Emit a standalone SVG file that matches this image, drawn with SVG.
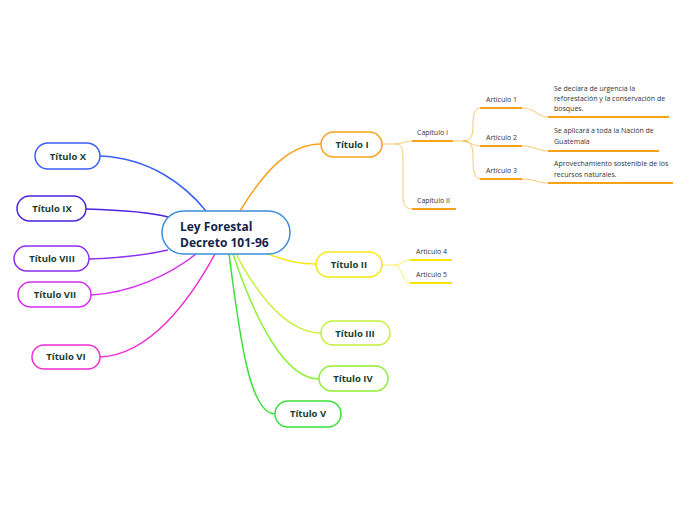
<svg xmlns="http://www.w3.org/2000/svg" width="696" height="520" viewBox="0 0 696 520">
<style>
.node{fill:#fff;stroke-width:1.5}
.t{font-family:"Open Sans","Noto Sans",sans-serif;font-weight:bold;font-size:9.5px;fill:#16402f;text-anchor:middle}
.c{font-family:"Open Sans","Noto Sans",sans-serif;font-weight:bold;font-size:12px;fill:#12244a}
.s{font-family:"Open Sans","Noto Sans",sans-serif;font-size:7px;fill:#333}
.con{fill:none;stroke-width:1.5}
.sub{fill:none;stroke-width:1;opacity:.6}
.ul{fill:none;stroke-width:2}
</style>
<rect width="696" height="520" fill="#fff"/>
<g id="connectors">
<path class="con" stroke="#f7a21b" d="M240 211 C265 170 290 144 321 144"/>
<path class="con" stroke="#f5e71a" d="M268 254 C290 262 300 264 316 264"/>
<path class="con" stroke="#c5f03a" d="M236 254 C260 300 290 333 321 333"/>
<path class="con" stroke="#8ef035" d="M233 254 C255 320 285 379 319 379"/>
<path class="con" stroke="#3de03a" d="M229 254 C240 340 250 414 275 414"/>
<path class="con" stroke="#3b5ff5" d="M100 156 C150 158 185 185 206 211"/>
<path class="con" stroke="#4a22e0" d="M86 209 C120 210 150 212 168 217"/>
<path class="con" stroke="#8a2ef0" d="M89 259 C120 258 150 254 168 250"/>
<path class="con" stroke="#d52ef0" d="M91 295 C130 293 170 275 196 254"/>
<path class="con" stroke="#f02ed0" d="M100 357 C150 355 190 300 215 254"/>
<path class="sub" stroke="#f7a21b" d="M382 144 L395 144 C402 144 405 141 412 141"/>
<path class="sub" stroke="#f7a21b" d="M395 144 C403 144 403 150 403 165 L403 197 C403 205 406 209 412 209"/>
<path class="sub" stroke="#f7a21b" d="M453 141 L463 141 C472 141 473 134 473 125 C473 113 475 108 480 108"/>
<path class="sub" stroke="#f7a21b" d="M463 141 C470 141 472 146 480 146"/>
<path class="sub" stroke="#f7a21b" d="M463 141 C472 141 473 148 473 158 C473 172 475 179 480 179"/>
<path class="sub" stroke="#f7a21b" d="M522 108 C535 108 538 117 548 117"/>
<path class="sub" stroke="#f7a21b" d="M522 146 C535 146 538 151 548 151"/>
<path class="sub" stroke="#f7a21b" d="M522 179 C535 179 538 183 548 183"/>
<path class="sub" stroke="#f5e500" d="M382 265 L394 265 C402 265 403 260 410 260"/>
<path class="sub" stroke="#f5e500" d="M394 265 C402 265 402 283 410 283"/>
</g>
<g id="central">
<rect class="node" x="162" y="211" width="128" height="43" rx="21.5" stroke="#3c8fd8"/>
<text class="c" x="180" y="231">Ley Forestal</text>
<text class="c" x="180" y="247">Decreto 101-96</text>
</g>
<g id="titulo1">
<rect class="node" x="321" y="132" width="61" height="25" rx="12.5" stroke="#f7a21b"/>
<text class="t" x="352" y="148">Título I</text>
</g>
<g id="capitulo1">
<text class="s" x="417" y="135">Capítulo I</text>
<path class="ul" stroke="#f7a21b" d="M412 141 H453"/>
</g>
<g id="capitulo2">
<text class="s" x="417" y="203">Capítulo II</text>
<path class="ul" stroke="#f7a21b" d="M412 209 H456"/>
</g>
<g id="articulo1">
<text class="s" x="486" y="102">Artículo 1</text>
<path class="ul" stroke="#f7a21b" d="M480 108 H522"/>
</g>
<g id="articulo2">
<text class="s" x="486" y="140">Artículo 2</text>
<path class="ul" stroke="#f7a21b" d="M480 146 H522"/>
</g>
<g id="articulo3">
<text class="s" x="486" y="173">Artículo 3</text>
<path class="ul" stroke="#f7a21b" d="M480 179 H522"/>
</g>
<g id="texto1">
<text class="s" x="554" y="91">Se declara de urgencia la</text>
<text class="s" x="554" y="101">reforestación y la conservación de</text>
<text class="s" x="554" y="111">bosques.</text>
<path class="ul" stroke="#f7a21b" d="M548 117 H669"/>
</g>
<g id="texto2">
<text class="s" x="554" y="133">Se aplicará a toda la Nación de</text>
<text class="s" x="554" y="144">Guatemala</text>
<path class="ul" stroke="#f7a21b" d="M548 151 H659"/>
</g>
<g id="texto3">
<text class="s" x="554" y="166">Aprovechamiento sostenible de los</text>
<text class="s" x="554" y="177">recursos naturales.</text>
<path class="ul" stroke="#f7a21b" d="M548 183 H673"/>
</g>
<g id="titulo2">
<rect class="node" x="316" y="252" width="66" height="25" rx="12.5" stroke="#f5e71a"/>
<text class="t" x="349" y="268">Título II</text>
</g>
<g id="articulo4">
<text class="s" x="416" y="254">Articulo 4</text>
<path class="ul" stroke="#f5e500" d="M410 260 H452"/>
</g>
<g id="articulo5">
<text class="s" x="416" y="277">Articulo 5</text>
<path class="ul" stroke="#f5e500" d="M410 283 H452"/>
</g>
<g id="titulo3">
<rect class="node" x="321" y="321" width="69" height="24" rx="12" stroke="#c5f03a"/>
<text class="t" x="355" y="337">Título III</text>
</g>
<g id="titulo4">
<rect class="node" x="319" y="366" width="69" height="25" rx="12.5" stroke="#8ef035"/>
<text class="t" x="353" y="382">Título IV</text>
</g>
<g id="titulo5">
<rect class="node" x="275" y="401" width="66" height="26" rx="13" stroke="#3de03a"/>
<text class="t" x="308" y="417">Título V</text>
</g>
<g id="titulo10">
<rect class="node" x="35" y="143" width="65" height="26" rx="13" stroke="#3b5ff5"/>
<text class="t" x="68" y="160">Título X</text>
</g>
<g id="titulo9">
<rect class="node" x="17" y="196" width="69" height="25" rx="12.5" stroke="#4a22e0"/>
<text class="t" x="52" y="212">Título IX</text>
</g>
<g id="titulo8">
<rect class="node" x="14" y="246" width="75" height="25" rx="12.5" stroke="#8a2ef0"/>
<text class="t" x="52" y="262">Título VIII</text>
</g>
<g id="titulo7">
<rect class="node" x="18" y="282" width="73" height="25" rx="12.5" stroke="#d52ef0"/>
<text class="t" x="55" y="298">Título VII</text>
</g>
<g id="titulo6">
<rect class="node" x="32" y="345" width="68" height="24" rx="12" stroke="#f02ed0"/>
<text class="t" x="66" y="360">Título VI</text>
</g>
</svg>
